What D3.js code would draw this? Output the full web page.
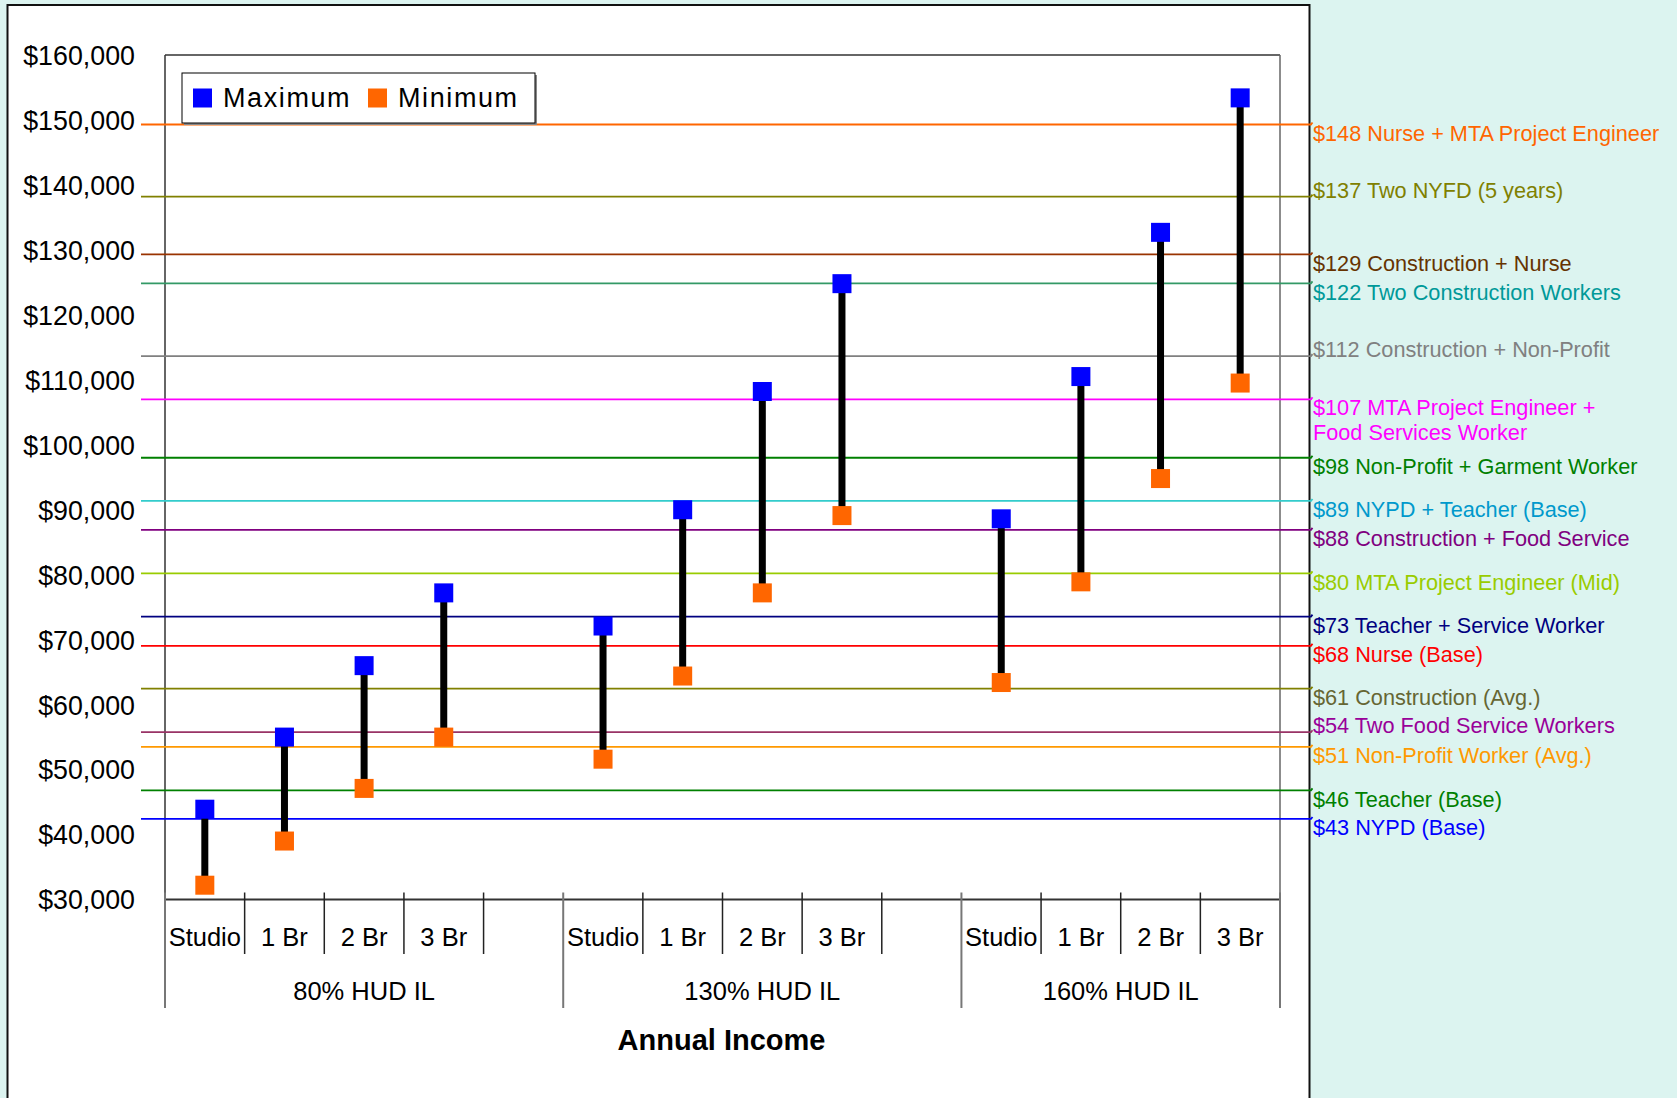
<!DOCTYPE html>
<html>
<head>
<meta charset="utf-8">
<script src="https://cdn.jsdelivr.net/npm/d3@7"></script>
<style>
  html, body { margin: 0; padding: 0; background: #DCF4F0; }
  svg { display: block; font-family: "Liberation Sans", Arial, sans-serif; }
</style>
</head>
<body>
<svg id="chart" width="1677" height="1098"></svg>
<script>
// ---------- data ----------
const groups = ["80% HUD IL", "130% HUD IL", "160% HUD IL"];
const categories = ["Studio", "1 Br", "2 Br", "3 Br"];
const groupHasGap = [true, true, false];
const seriesNames = ["Maximum", "Minimum"];
const maxValues = [43900, 55000, 66000, 77200, 72100, 90000, 108200, 124800, 88600, 110500, 132700, 153400];
const minValues = [32200, 39000, 47100, 55000, 51600, 64400, 77200, 89100, 63400, 78900, 94800, 109500];
const yTicks = [30000, 40000, 50000, 60000, 70000, 80000, 90000, 100000, 110000, 120000, 130000, 140000, 150000, 160000];
const refValues = [149300, 138200, 129300, 124850, 113650, 107000, 98000, 91350, 86900, 80200, 73550, 69050, 62450, 55750, 53500, 46800, 42400];
const refLabels = [
  ["$148 Nurse + MTA Project Engineer"],
  ["$137 Two NYFD (5 years)"],
  ["$129 Construction + Nurse"],
  ["$122 Two Construction Workers"],
  ["$112 Construction + Non-Profit"],
  ["$107 MTA Project Engineer +", "Food Services Worker"],
  ["$98 Non-Profit + Garment Worker"],
  ["$89 NYPD + Teacher (Base)"],
  ["$88 Construction + Food Service"],
  ["$80 MTA Project Engineer (Mid)"],
  ["$73 Teacher + Service Worker"],
  ["$68 Nurse (Base)"],
  ["$61 Construction (Avg.)"],
  ["$54 Two Food Service Workers"],
  ["$51 Non-Profit Worker (Avg.)"],
  ["$46 Teacher (Base)"],
  ["$43 NYPD (Base)"]
];
const refLabelAbove = [false, true, false, false, true, false, false, false, false, false, false, false, false, true, false, false, false];
const refLineColors = ["#FF6600", "#808000", "#993300", "#339966", "#808080", "#FF00FF", "#008000", "#33CCCC", "#800080", "#99CC00", "#000080", "#FF0000", "#808000", "#993366", "#FF9900", "#008000", "#0000FF"];
const refTextColors = ["#FF6600", "#808000", "#663300", "#009999", "#808080", "#FF00FF", "#008000", "#0099CC", "#800080", "#99CC00", "#000080", "#FF0000", "#666633", "#990099", "#FF9900", "#008000", "#0000FF"];
const axisTitle = "Annual Income";

// ---------- layout ----------
const svg = d3.select("#chart");
const plot = { left: 165, top: 55, right: 1280, bottom: 899.5 };

const slots = [];
const points = [];
let vi = 0;
groups.forEach((g, gi) => {
  categories.forEach((c) => {
    const key = g + "|" + c;
    slots.push({ key, group: g, cat: c });
    points.push({ key, max: maxValues[vi], min: minValues[vi] });
    vi++;
  });
  if (groupHasGap[gi]) slots.push({ key: g + "|gap", group: g, cat: null });
});

const x = d3.scaleBand().domain(slots.map(s => s.key)).range([plot.left, plot.right]).paddingInner(0).paddingOuter(0);
const y = d3.scaleLinear().domain([30000, 160000]).range([plot.bottom, plot.top]);

// white panel
svg.append("rect").attr("x", 7.5).attr("y", 5).attr("width", 1302).attr("height", 1200)
  .attr("fill", "#fff").attr("stroke", "#111").attr("stroke-width", 2);

// plot frame
svg.append("line").attr("x1", plot.left).attr("x2", plot.right).attr("y1", plot.top).attr("y2", plot.top)
  .attr("stroke", "#333").attr("stroke-width", 1.5);
svg.append("line").attr("x1", plot.left).attr("x2", plot.left).attr("y1", plot.top).attr("y2", plot.bottom)
  .attr("stroke", "#333").attr("stroke-width", 1.5);
svg.append("line").attr("x1", plot.right).attr("x2", plot.right).attr("y1", plot.top).attr("y2", plot.bottom)
  .attr("stroke", "#666").attr("stroke-width", 1.5);

// y axis labels
const yAxis = d3.axisLeft(y).tickValues(yTicks).tickFormat(d3.format("$,")).tickSize(0).tickPadding(30);
const yg = svg.append("g").attr("transform", `translate(${plot.left},0)`).call(yAxis);
yg.select(".domain").remove();
yg.selectAll("text").attr("font-size", 26.8).attr("fill", "#000")
  .attr("font-family", "Liberation Sans, Arial, sans-serif").attr("dy", "0.35em");

// x axis line
svg.append("line").attr("x1", plot.left).attr("x2", plot.right).attr("y1", plot.bottom).attr("y2", plot.bottom)
  .attr("stroke", "#333").attr("stroke-width", 2);

// dividers and category labels
const bw = x.bandwidth();
slots.forEach((s, i) => {
  const xb = x(s.key);
  const prev = slots[i - 1];
  const isGroupStart = !prev || prev.group !== s.group;
  svg.append("line").attr("x1", xb).attr("x2", xb)
    .attr("y1", plot.bottom - 7).attr("y2", isGroupStart ? 1008 : 954)
    .attr("stroke", isGroupStart ? "#777" : "#222").attr("stroke-width", isGroupStart ? 2 : 1.5);
  if (s.cat) {
    svg.append("text").attr("x", xb + bw / 2).attr("y", 937).attr("dy", "0.35em")
      .attr("text-anchor", "middle").attr("font-size", 25.5).attr("fill", "#000").text(s.cat);
  }
});
svg.append("line").attr("x1", plot.right).attr("x2", plot.right).attr("y1", plot.bottom - 7).attr("y2", 1008)
  .attr("stroke", "#777").attr("stroke-width", 2);

// group labels
groups.forEach(g => {
  const gs = slots.filter(s => s.group === g);
  const x0 = x(gs[0].key), x1 = x(gs[gs.length - 1].key) + bw;
  svg.append("text").attr("x", (x0 + x1) / 2).attr("y", 991).attr("dy", "0.35em")
    .attr("text-anchor", "middle").attr("font-size", 25.5).attr("fill", "#000").text(g);
});

// axis title
svg.append("text").attr("x", (plot.left + plot.right) / 2 - 1).attr("y", 1040).attr("dy", "0.35em")
  .attr("text-anchor", "middle").attr("font-size", 29).attr("font-weight", "bold").attr("fill", "#000").text(axisTitle);

// reference lines
const refG = svg.append("g");
refValues.forEach((v, i) => {
  const yy = y(v);
  refG.append("path")
    .attr("d", `M141,${yy}H1311l1.5,-2`)
    .attr("fill", "none").attr("stroke", refLineColors[i]).attr("stroke-width", 1.8);
  const lines = refLabels[i];
  const base = refLabelAbove[i] ? yy - 6.7 : yy + 8.6;
  lines.forEach((t, li) => {
    refG.append("text").attr("x", 1313).attr("y", base + li * 25).attr("dy", "0.35em")
      .attr("font-size", 21.7).attr("fill", refTextColors[i]).text(t);
  });
});

// connectors
const ms = 19;
svg.append("g").selectAll("line").data(points).join("line")
  .attr("x1", d => x(d.key) + bw / 2).attr("x2", d => x(d.key) + bw / 2)
  .attr("y1", d => y(d.min)).attr("y2", d => y(d.max))
  .attr("stroke", "#000").attr("stroke-width", 7);

// markers
svg.append("g").selectAll("rect").data(points).join("rect")
  .attr("x", d => x(d.key) + bw / 2 - ms / 2).attr("y", d => y(d.min) - ms / 2)
  .attr("width", ms).attr("height", ms).attr("fill", "#FF6600");
svg.append("g").selectAll("rect").data(points).join("rect")
  .attr("x", d => x(d.key) + bw / 2 - ms / 2).attr("y", d => y(d.max) - ms / 2)
  .attr("width", ms).attr("height", ms).attr("fill", "#0000FF");

// legend
const lg = svg.append("g");
lg.append("rect").attr("x", 184).attr("y", 75).attr("width", 353).attr("height", 50).attr("fill", "#888");
lg.append("rect").attr("x", 182).attr("y", 73).attr("width", 353).attr("height", 50)
  .attr("fill", "#fff").attr("stroke", "#000").attr("stroke-width", 1);
const legColors = ["#0000FF", "#FF6600"];
const legX = [193, 368];
seriesNames.forEach((n, i) => {
  lg.append("rect").attr("x", legX[i]).attr("y", 88.5).attr("width", 19).attr("height", 19).attr("fill", legColors[i]);
  lg.append("text").attr("x", legX[i] + 30).attr("y", 98).attr("dy", "0.35em")
    .attr("font-size", 27).attr("letter-spacing", 1.6).attr("fill", "#000").text(n);
});
</script>
</body>
</html>
